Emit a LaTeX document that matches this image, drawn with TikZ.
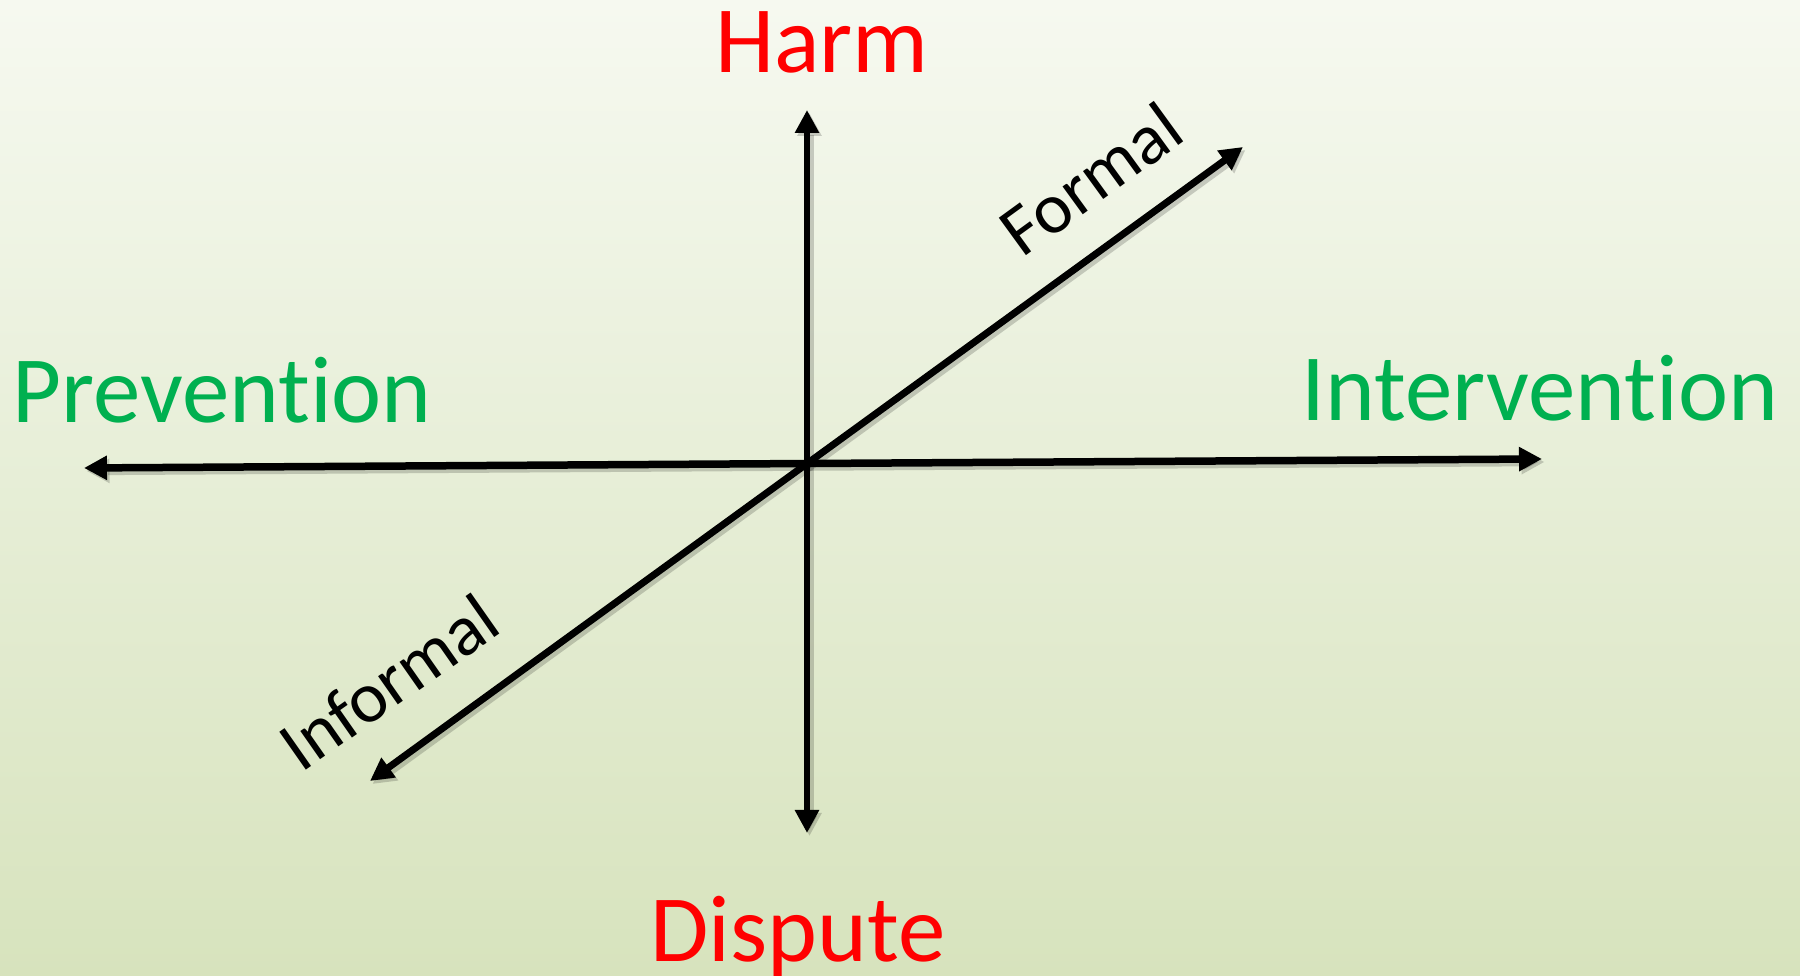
\documentclass[tikz,border=0pt]{standalone}
\usepackage{fontspec}
\setmainfont[Ligatures={NoCommon,NoRare,NoContextual,NoRequired}]{Carlito}
\usetikzlibrary{arrows.meta}
\definecolor{bgtop}{HTML}{F6F9F0}
\definecolor{bgbot}{HTML}{D7E3BD}
\definecolor{axisred}{HTML}{FF0000}
\definecolor{axisgreen}{HTML}{00B050}
\tikzset{
  axisline/.style={line width=0.07cm, black,
    {Triangle[length=0.23cm,width=0.23cm]}-{Triangle[length=0.23cm,width=0.23cm]},
    preaction={draw=black, opacity=0.18, line width=0.085cm,
      transform canvas={shift={(0.025,-0.03)}}}},
  bigred/.style={inner sep=0pt, anchor=base, text=axisred, font=\fontsize{27}{32}\selectfont},
  biggreen/.style={inner sep=0pt, anchor=base, text=axisgreen, font=\fontsize{27}{32}\selectfont},
  diaglabel/.style={inner sep=0pt, anchor=base, text=black, font=\fontsize{20.5}{24}\selectfont}
}
\begin{document}
\begin{tikzpicture}
\useasboundingbox (0,0) rectangle (18,9.76);
\shade[top color=bgtop, bottom color=bgbot] (0,0) rectangle (18,9.76);
% axis end points
\coordinate (top) at (8.07,8.66);
\coordinate (bottom) at (8.07,1.43);
\coordinate (left) at (0.84,5.08);
\coordinate (right) at (15.42,5.17);
\coordinate (ur) at (12.43,8.29);
\coordinate (ll) at (3.70,1.95);
% axes
\draw[axisline, line width=0.062cm] (bottom) -- (top);
\draw[axisline, line width=0.075cm] (left) -- (right);
\draw[axisline] (ll) -- (ur);
% labels
\node[bigred] (harm) at (8.22,9.03) {Harm};
\node[bigred] (dispute) at (7.98,0.14) {Dispute};
\node[biggreen] (prevention) at (2.22,5.53) {Prevention};
\node[biggreen] (intervention) at (15.40,5.55) {Intervention};
\node[diaglabel, rotate=36] (formal) at (11.05,7.77) {Formal};
\node[diaglabel, rotate=35] (informal) at (4.03,2.74) {Informal};
\end{tikzpicture}
\end{document}
